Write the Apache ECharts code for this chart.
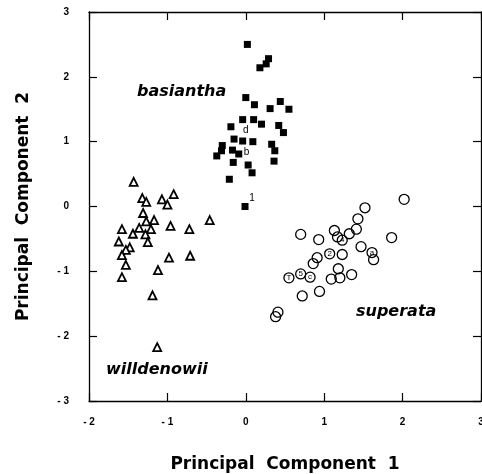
<!DOCTYPE html>
<html>
<head>
<meta charset="utf-8">
<script src="https://cdn.jsdelivr.net/npm/echarts@6/dist/echarts.min.js"></script>
<style>
  html, body { margin: 0; padding: 0; background: #fff; }
  #chart { width: 482px; height: 474px; }
</style>
</head>
<body>
<div id="chart"></div>
<script>
// basiantha (filled squares)
const basianthaX = [0.02, 0.29, 0.26, 0.18, 0.00, 0.11, 0.31, 0.44, 0.55, -0.04, 0.10, 0.20, -0.19, 0.42, 0.48, -0.15,
  -0.04, 0.09, -0.30, -0.31, -0.37, -0.17, -0.09, 0.33, 0.37, -0.16, 0.03, 0.08, 0.36, -0.21, -0.01]
const basianthaY = [2.50, 2.28, 2.20, 2.14, 1.68, 1.57, 1.51, 1.62, 1.50, 1.34, 1.34, 1.27, 1.23, 1.25, 1.14, 1.04,
  1.01, 1.00, 0.94, 0.86, 0.78, 0.87, 0.81, 0.96, 0.86, 0.68, 0.64, 0.52, 0.70, 0.42, 0.00]

// small letters beside basiantha points
const noteX = [0.00, 0.01, 0.08]
const noteY = [1.18, 0.84, 0.13]
const noteText = ['d', 'b', '1']

// superata (open circles), some carry a letter inside
const superataX = [2.02, 1.52, 1.43, 1.41, 1.32, 1.13, 1.17, 1.23, 0.93, 0.70, 1.86, 1.07, 1.23, 1.47, 1.61, 1.63,
  0.91, 0.86, 0.55, 0.70, 0.82, 1.18, 1.09, 1.20, 1.35, 0.94, 0.72, 0.41, 0.38]
const superataY = [0.11, -0.02, -0.19, -0.35, -0.42, -0.37, -0.47, -0.52, -0.51, -0.43, -0.48, -0.73, -0.74, -0.62, -0.71, -0.82,
  -0.79, -0.88, -1.10, -1.04, -1.09, -0.96, -1.12, -1.10, -1.05, -1.31, -1.38, -1.63, -1.70]
const superataTag = ['', '', '', '', '', '', '', '4', '', '', '', '2', '', '', 'a', '',
  '', '', 'T', '5', 'c', '', '', '', '', '', '', '', '']

// willdenowii (open triangles)
const willdenowiiX = [-1.43, -1.32, -1.27, -1.07, -0.92, -1.00, -1.31, -1.27, -1.17, -1.36, -1.58, -1.44, -1.21, -1.28,
  -1.25, -0.96, -0.72, -0.46, -1.62, -1.48, -1.53, -1.58, -1.53, -0.98, -0.71, -1.58, -1.12, -1.19, -1.13]
const willdenowiiY = [0.38, 0.13, 0.07, 0.11, 0.19, 0.03, -0.10, -0.23, -0.21, -0.33, -0.35, -0.42, -0.35, -0.43,
  -0.55, -0.30, -0.35, -0.21, -0.54, -0.63, -0.67, -0.75, -0.90, -0.79, -0.76, -1.09, -0.98, -1.37, -2.17]

const xTicks = { min: -2, max: 3, interval: 1 }
const yTicks = { min: -3, max: 3, interval: 1 }

const zip = (xs, ys, extra) => xs.map((x, i) => extra ? [x, ys[i], extra[i]] : [x, ys[i]])
const tickFmt = v => (v < 0 ? '- ' + (-v) : String(v))

const tickFont = { color: '#000', fontSize: 10, fontWeight: 'bold', fontFamily: 'Liberation Sans' }
const frame = { show: true, onZero: false, lineStyle: { color: '#000', width: 1.3 } }
const ticksIn = { show: true, inside: true, length: 8, lineStyle: { color: '#000', width: 1.2 } }
const titleFont = { color: '#000', fontSize: 17, fontWeight: 'bold', fontFamily: 'DejaVu Sans' }
const speciesFont = 'italic bold 16px "DejaVu Sans"'

const chart = echarts.init(document.getElementById('chart'))

chart.setOption({
  backgroundColor: '#fff',
  animation: false,
  grid: { left: 89, right: 1, top: 12, bottom: 73, containLabel: false, outerBoundsMode: 'none' },
  xAxis: [
    {
      type: 'value', ...xTicks,
      name: 'Principal  Component  1',
      nameLocation: 'middle',
      nameGap: 55,
      nameTextStyle: titleFont,
      axisLine: frame,
      axisTick: ticksIn,
      axisLabel: { ...tickFont, margin: 16, formatter: tickFmt },
      splitLine: { show: false }
    },
    {
      type: 'value', ...xTicks, position: 'top',
      axisLine: frame, axisTick: ticksIn,
      axisLabel: { show: false }, splitLine: { show: false }
    }
  ],
  yAxis: [
    {
      type: 'value', ...yTicks,
      name: 'Principal  Component  2',
      nameLocation: 'middle',
      nameGap: 57,
      nameTextStyle: titleFont,
      axisLine: frame,
      axisTick: ticksIn,
      axisLabel: { ...tickFont, margin: 20, formatter: tickFmt },
      splitLine: { show: false }
    },
    {
      type: 'value', ...yTicks, position: 'right',
      axisLine: frame, axisTick: ticksIn,
      axisLabel: { show: false }, splitLine: { show: false }
    }
  ],
  series: [
    {
      name: 'willdenowii',
      type: 'scatter',
      silent: true,
      symbol: 'triangle',
      symbolSize: 8,
      itemStyle: { color: '#fff', borderColor: '#000', borderWidth: 1.8, opacity: 1 },
      data: zip(willdenowiiX, willdenowiiY)
    },
    {
      name: 'basiantha',
      type: 'scatter',
      silent: true,
      symbol: 'rect',
      symbolSize: 7,
      itemStyle: { color: '#000', opacity: 1 },
      data: zip(basianthaX, basianthaY)
    },
    {
      name: 'superata',
      type: 'scatter',
      silent: true,
      symbol: 'circle',
      symbolSize: 10,
      itemStyle: { color: 'rgba(0,0,0,0)', borderColor: '#000', borderWidth: 1.3, opacity: 1 },
      label: {
        show: true,
        position: 'inside',
        formatter: p => p.data[2],
        color: '#000',
        fontSize: 8,
        fontFamily: 'Liberation Sans'
      },
      data: zip(superataX, superataY, superataTag)
    },
    {
      name: 'notes',
      type: 'scatter',
      silent: true,
      symbolSize: 0,
      itemStyle: { opacity: 1 },
      label: {
        show: true,
        position: 'inside',
        formatter: p => p.data[2],
        color: '#000',
        fontSize: 10,
        fontFamily: 'Liberation Sans'
      },
      data: zip(noteX, noteY, noteText)
    }
  ],
  graphic: [
    { type: 'text', left: 137, top: 84, silent: true, style: { text: 'basiantha', font: speciesFont, fill: '#000' } },
    { type: 'text', left: 356, top: 304, silent: true, style: { text: 'superata', font: speciesFont, fill: '#000' } },
    { type: 'text', left: 106, top: 362, silent: true, style: { text: 'willdenowii', font: speciesFont, fill: '#000' } }
  ]
})
</script>
</body>
</html>
